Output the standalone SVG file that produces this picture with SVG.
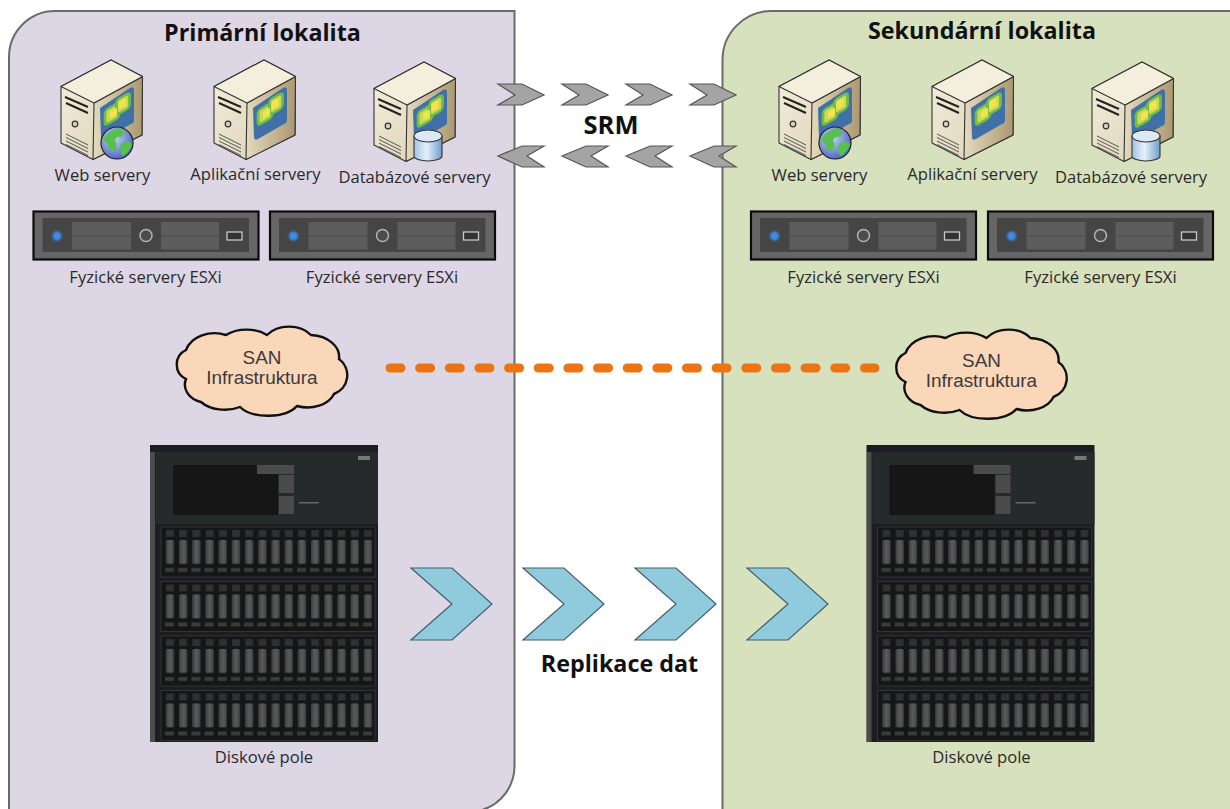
<svg xmlns="http://www.w3.org/2000/svg" width="1230" height="809" viewBox="0 0 1230 809">
<style>
text{font-family:"Open Sans","Liberation Sans",sans-serif;fill:#2a2a2a;text-anchor:middle}
.lbl{font-size:16.600px}
.ttl{font-size:23.300px;font-weight:700;fill:#111}
.big{font-size:25.500px}
.san{font-family:"Liberation Sans",Arial,sans-serif;font-size:18.900px;fill:#3a3a3a}
.panel{stroke:#6b6b6b;stroke-width:2}
.srm{fill:#a4a4a4;stroke:#565656;stroke-width:1.200}
.rep{fill:#8fcbdc;stroke:#44606c;stroke-width:1.200}
.dash{fill:none;stroke:#ec7412;stroke-width:9;stroke-linecap:round;stroke-dasharray:11 18.650}
.cloud{fill:#fbd7ba;stroke:#111;stroke-width:2.400}
.edge{stroke:#333;stroke-width:1.100;stroke-linejoin:round}
</style>
<defs>
<linearGradient id="gFront" x1="0" y1="0" x2="1" y2="1"><stop offset="0" stop-color="#f5f0df"/><stop offset="1" stop-color="#d8cdaf"/></linearGradient>
<linearGradient id="gRight" x1="0" y1="0" x2="1" y2="0"><stop offset="0" stop-color="#e4dabd"/><stop offset="1" stop-color="#ab9872"/></linearGradient>
<linearGradient id="gCyl" x1="0" y1="0" x2="1" y2="0"><stop offset="0" stop-color="#9fc3e4"/><stop offset=".45" stop-color="#e6f1fa"/><stop offset="1" stop-color="#6f9cc8"/></linearGradient>
<linearGradient id="gDrive" x1="0" y1="0" x2="1" y2="0"><stop offset="0" stop-color="#3a3c3c"/><stop offset=".5" stop-color="#5a5c5c"/><stop offset="1" stop-color="#444646"/></linearGradient>
<radialGradient id="gGlobe" cx=".4" cy=".35" r=".7"><stop offset="0" stop-color="#c4d6f5"/><stop offset="1" stop-color="#4a5fc4"/></radialGradient>
<filter id="soft" x="-2%" y="-2%" width="104%" height="104%"><feGaussianBlur stdDeviation="0.600"/></filter>
<filter id="glow" x="-100%" y="-100%" width="300%" height="300%"><feGaussianBlur stdDeviation="0.800"/></filter>
<pattern id="bays" x="163" y="527" width="13.200" height="54.500" patternUnits="userSpaceOnUse">
<rect x="2.700" y="13" width="8.300" height="24" rx="1.500" fill="url(#gDrive)"/>
<rect x="3" y="3" width="8" height="7" fill="#2e3031"/>
<rect x="2" y="41" width="9" height="4" fill="#3b3d3e"/>
</pattern>
<g id="tower">
<path class="edge" d="M111 60 L142.500 76.500 L142 135 L93 159.500 L61 143 L61 86.500Z" fill="url(#gFront)"/>
<path class="edge" d="M94 103 L142.500 76.500 L142 135 L93 159.500Z" fill="url(#gRight)"/>
<path class="edge" d="M61 86.500 L111 60 L142.500 76.500 L94 103Z" fill="#f4eedd"/>
<path d="M65 97 L88 107 M66 103 L88 113" stroke="#222" stroke-width="2" fill="none"/>
<circle cx="75" cy="124" r="2.800" fill="#d8d0b8" stroke="#333" stroke-width="1.200"/>
<path d="M66 134 L88 145 M66 137.500 L88 148.500 M66 141 L88 152 M66 144.500 L88 155.500" stroke="#555" stroke-width="1" fill="none"/>
<path d="M100 108 L130 88 Q134 86 134 90 L134 120 Q134 123 131 124 L105 139 Q101 141 101 137Z" fill="#3f70a8"/>
<g transform="matrix(1 -.55 0 1 0 0)">
<rect x="105" y="168" width="14" height="15" rx="3" fill="#c7dc55" stroke="#74bb45" stroke-width="2.800"/>
<rect x="116.500" y="164" width="13" height="15" rx="3" fill="#c7dc55" stroke="#74bb45" stroke-width="2.800"/>
<rect x="110" y="172" width="7" height="7" rx="1" fill="#f4e34c"/>
<rect x="118.500" y="167" width="7" height="8" rx="1" fill="#f4e34c"/>
</g>
</g>
<g id="globe">
<circle cx="117" cy="143" r="16" fill="url(#gGlobe)" stroke="#222" stroke-width="1.200"/>
<path d="M103 140 Q108 130 119 128 Q127 131 122 137 Q116 136 115 141 Q119 146 113 152 Q107 149 107 143Z M122 143 Q130 139 132 145 Q128 154 122 156 Q118 149 122 143Z" fill="#57c04f"/>
</g>
<g id="cyl">
<path class="edge" d="M101 134 L101 154 A14 5 0 0 0 129 154 L129 134Z" fill="url(#gCyl)"/>
<ellipse class="edge" cx="115" cy="134" rx="14" ry="6" fill="#dbe9f6"/>
</g>
<g id="rack">
<rect x="33.500" y="211.500" width="225" height="48" fill="#666" stroke="#0b0b0b" stroke-width="2.200"/>
<rect x="42.500" y="218" width="206.500" height="34" fill="#454545"/>
<rect x="72" y="222" width="59" height="27.500" fill="#5d5d5d"/>
<rect x="161" y="222" width="58" height="27.500" fill="#5d5d5d"/>
<path d="M72 236 H131 M161 236 H219" stroke="#4c4c4c" stroke-width="1"/>
<circle cx="57" cy="236" r="4.500" fill="#3d8df0" filter="url(#glow)"/>
<circle cx="146" cy="235.500" r="6" fill="#4c4c4c" stroke="#b4b4b4" stroke-width="1.500"/>
<rect x="227" y="232" width="15" height="8" fill="#333" stroke="#c8c8c8" stroke-width="1.300"/>
</g>
<g id="array" filter="url(#soft)">
<rect x="150" y="445" width="228" height="297" fill="#1d1f20"/>
<rect x="150" y="452" width="5" height="290" fill="#6a6c6c" opacity=".6"/>
<rect x="156" y="452" width="222" height="72" fill="#28292a"/>
<rect x="173" y="465" width="105" height="50" fill="#131415"/>
<rect x="257" y="465" width="37" height="9" fill="#4b4b4b"/>
<rect x="279" y="475" width="15" height="18" fill="#4b4b4b"/>
<rect x="279" y="496" width="15" height="18" fill="#4b4b4b"/>
<rect x="358" y="456" width="12" height="4" fill="#777"/>
<rect x="299" y="502" width="20" height="1.500" fill="#666"/>
<g id="shelves">
<rect x="161" y="527" width="214" height="50" fill="#121415" stroke="#333536" stroke-width="1"/>
<rect x="161" y="581.500" width="214" height="50" fill="#121415" stroke="#333536" stroke-width="1"/>
<rect x="161" y="636" width="214" height="50" fill="#121415" stroke="#333536" stroke-width="1"/>
<rect x="161" y="690.500" width="214" height="50" fill="#121415" stroke="#333536" stroke-width="1"/>
<rect x="163" y="527" width="211" height="214" fill="url(#bays)"/>
</g>
</g>
</defs>

<g id="panels">
<path id="primary-site" class="panel" fill="#dcd6e5" d="M9 812 V57 A46 46 0 0 1 55 11 H514.500 V766 A46 46 0 0 1 482 810 V812Z"/>
<path id="secondary-site" class="panel" fill="#d7e1be" d="M722.500 812 V60 A49 49 0 0 1 771.500 11 H1232 V812Z"/>
</g>

<g id="connectors">
<g id="srm-forward">
<path class="srm" d="M498 84 H522 L544 95 L522 105 H498 L515 95Z"/>
<path class="srm" d="M562 84 H586 L608 95 L586 105 H562 L579 95Z"/>
<path class="srm" d="M626 84 H650 L672 95 L650 105 H626 L643 95Z"/>
<path class="srm" d="M690 84 H714 L736 95 L714 105 H690 L707 95Z"/>
</g>
<g id="srm-back">
<path class="srm" d="M544 146 H522 L498 156 L522 167 H544 L527 156Z"/>
<path class="srm" d="M608 146 H586 L562 156 L586 167 H608 L591 156Z"/>
<path class="srm" d="M672 146 H650 L626 156 L650 167 H672 L655 156Z"/>
<path class="srm" d="M736 146 H714 L690 156 L714 167 H736 L719 156Z"/>
</g>
<path id="san-link" class="dash" d="M390 368 H875"/>
<g id="replication">
<path class="rep" d="M411 568 H452 L492 604 L452 640 H411 L452 604Z"/>
<path class="rep" d="M523 568 H564 L604 604 L564 640 H523 L564 604Z"/>
<path class="rep" d="M635 568 H676 L716 604 L676 640 H635 L676 604Z"/>
<path class="rep" d="M747 568 H788 L828 604 L788 640 H747 L788 604Z"/>
</g>
<text id="srm-label" class="ttl big" x="611" y="134">SRM</text>
<text id="replication-label" class="ttl" x="619.500" y="672">Replikace dat</text>
</g>

<text id="primary-title" class="ttl" x="262.500" y="41">Primární lokalita</text>
<text id="secondary-title" class="ttl" x="982" y="39">Sekundární lokalita</text>

<g id="web-primary"><use href="#tower"/><use href="#globe"/><text class="lbl" x="102.500" y="181">Web servery</text></g>
<g id="app-primary"><use href="#tower" x="153"/><text class="lbl" x="255.500" y="180">Aplikační servery</text></g>
<g id="db-primary"><use href="#tower" x="313" y="2"/><use href="#cyl" x="313" y="2"/><text class="lbl" x="414.500" y="183">Databázové servery</text></g>
<g id="esx-primary-1"><use href="#rack"/><text class="lbl" x="145.500" y="283">Fyzické servery ESXi</text></g>
<g id="esx-primary-2"><use href="#rack" x="236.500"/><text class="lbl" x="382" y="283">Fyzické servery ESXi</text></g>
<g id="san-primary">
<path class="cloud" d="M267 335 A27 20 0 0 1 311 335 A30 22 0 0 1 339 359 A20 20 0 0 1 334 394 A28 20 0 0 1 297 406 A32 17 0 0 1 240 407 A30 20 0 0 1 201 402 A22 18 0 0 1 186 379 A16 16 0 0 1 186 350 A30 24 0 0 1 226 335 A28 17 0 0 1 267 335Z"/>
<text class="san" x="262" y="364">SAN</text><text class="san" x="262" y="384">Infrastruktura</text>
</g>
<g id="array-primary"><use href="#array"/><text class="lbl" x="264" y="763">Diskové pole</text></g>

<g id="web-secondary"><use href="#tower" x="718"/><use href="#globe" x="718"/><text class="lbl" x="819.500" y="181">Web servery</text></g>
<g id="app-secondary"><use href="#tower" x="871"/><text class="lbl" x="972.500" y="180">Aplikační servery</text></g>
<g id="db-secondary"><use href="#tower" x="1031" y="2"/><use href="#cyl" x="1031" y="2"/><text class="lbl" x="1131" y="183">Databázové servery</text></g>
<g id="esx-secondary-1"><use href="#rack" x="717.500"/><text class="lbl" x="863.500" y="283">Fyzické servery ESXi</text></g>
<g id="esx-secondary-2"><use href="#rack" x="954.500"/><text class="lbl" x="1100.500" y="283">Fyzické servery ESXi</text></g>
<g id="san-secondary">
<path class="cloud" transform="translate(719.500,3)" d="M267 335 A27 20 0 0 1 311 335 A30 22 0 0 1 339 359 A20 20 0 0 1 334 394 A28 20 0 0 1 297 406 A32 17 0 0 1 240 407 A30 20 0 0 1 201 402 A22 18 0 0 1 186 379 A16 16 0 0 1 186 350 A30 24 0 0 1 226 335 A28 17 0 0 1 267 335Z"/>
<text class="san" x="981.500" y="367">SAN</text><text class="san" x="981.500" y="387">Infrastruktura</text>
</g>
<g id="array-secondary"><use href="#array" x="716.500"/><text class="lbl" x="981.500" y="763">Diskové pole</text></g>
</svg>
